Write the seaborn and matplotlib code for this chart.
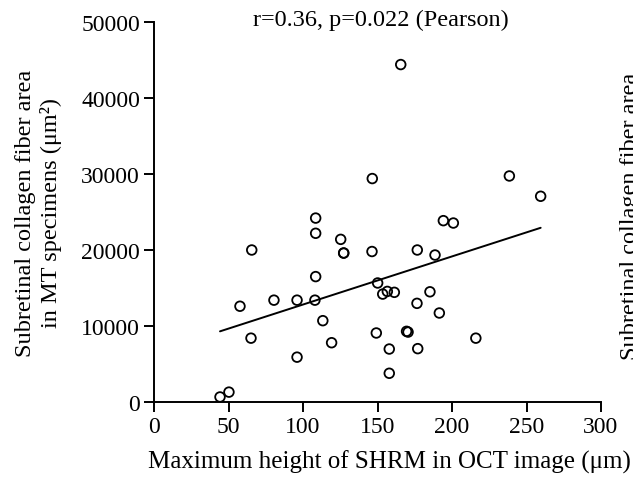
import matplotlib
matplotlib.use("Agg")
import matplotlib.pyplot as plt
import seaborn as sns
import pandas as pd

# Data
shrm_height = [44.3, 50.3, 57.7, 65.1, 65.6, 80.5, 96.0, 96.0, 108.5, 108.5,
               108.5, 108.0, 113.3, 119.2, 125.3, 127.3, 127.3, 146.3, 146.5, 149.2,
               150.1, 153.5, 156.6, 161.3, 157.9, 157.9, 165.6, 169.5, 170.5, 176.7,
               176.5, 177.0, 185.2, 188.6, 191.5, 194.2, 200.9, 216.0, 238.5, 259.5]
collagen_area = [660, 1300, 12600, 8400, 20000, 13400, 13400, 5900, 24200, 22200,
                 16500, 13400, 10700, 7800, 21400, 19600, 19600, 19800, 29400, 9080,
                 15660, 14200, 14550, 14430, 6970, 3780, 44400, 9300, 9200, 20000,
                 12980, 7020, 14500, 19340, 11710, 23860, 23550, 8400, 29740, 27070]

x_ticks = [0, 50, 100, 150, 200, 250, 300]
y_ticks = [0, 10000, 20000, 30000, 40000, 50000]

title_text = "r=0.36, p=0.022 (Pearson)"
x_label = "Maximum height of SHRM in OCT image (\u03bcm)"
y_label = "Subretinal collagen fiber area\nin MT specimens (\u03bcm\u00b2)"
neighbor_label = "Subretinal collagen fiber area"

df = pd.DataFrame({"x": shrm_height, "y": collagen_area})

sns.set_theme(style="ticks")
plt.rcParams["font.family"] = ["Liberation Serif", "DejaVu Serif"]

fig = plt.figure(figsize=(6.33, 4.81), dpi=100)
ax = fig.add_axes([154 / 633, 1 - 403 / 481, 447 / 633, 380 / 481])

sns.scatterplot(data=df, x="x", y="y", ax=ax, marker="o", s=48,
                facecolors="none", edgecolor="black", linewidth=1.3, zorder=3)
sns.regplot(data=df, x="x", y="y", ax=ax, scatter=False, ci=None,
            line_kws={"color": "black", "linewidth": 1.4})

ax.set_xlim(0, 300)
ax.set_ylim(0, 50000)
ax.set_xticks(x_ticks)
ax.set_yticks(y_ticks)
ax.set_xticklabels([str(t) for t in x_ticks])
ax.set_yticklabels([str(t) for t in y_ticks])

for s in ["top", "right"]:
    ax.spines[s].set_visible(False)
for s in ["left", "bottom"]:
    ax.spines[s].set_linewidth(1.4)
    ax.spines[s].set_color("black")

ax.tick_params(axis="both", direction="out", length=7, width=1.4,
               colors="black", labelsize=17, pad=3)

ax.set_xlabel(x_label, fontsize=18, color="black")
ax.xaxis.set_label_coords(0.527, -0.125)
ax.set_ylabel(y_label, fontsize=17.5, color="black", linespacing=1.25)
ax.yaxis.set_label_coords(-0.205, 0.5)

fig.text(381 / 633, 1 - 20 / 481, title_text, ha="center", va="center",
         fontsize=17.5, color="black")
fig.text(620 / 633, 1 - 216 / 481, neighbor_label, rotation=90,
         ha="left", va="center", fontsize=17.5, color="black")

fig.savefig("out.png", dpi=100)
